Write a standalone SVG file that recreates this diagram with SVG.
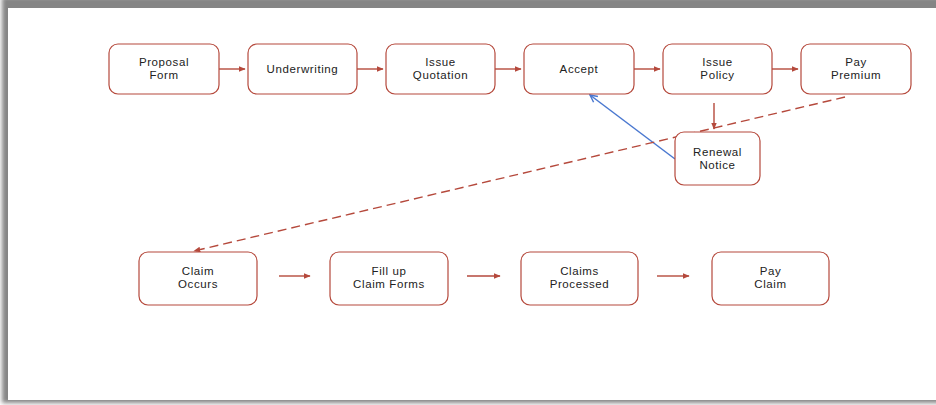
<svg xmlns="http://www.w3.org/2000/svg" width="936" height="405" viewBox="0 0 936 405">
<defs>
<style>
.n rect{fill:#fff;stroke:#b5493c;stroke-width:1.2}
.n text{font-family:"Liberation Sans",Arial,sans-serif;font-size:11.5px;letter-spacing:0.6px;fill:#222;text-anchor:middle}
.c{stroke:#b5493c;stroke-width:1.4;fill:none}
</style>
<marker id="ar" viewBox="0 0 10 10" refX="9" refY="5" markerWidth="5" markerHeight="5" orient="auto"><path d="M0,1 L10,5 L0,9 z" fill="#b5493c"/></marker>
<marker id="ab" viewBox="0 0 10 10" refX="9" refY="5" markerWidth="6" markerHeight="6" orient="auto"><path d="M1,1 L9,5 L1,9" fill="none" stroke="#4a78d0" stroke-width="1.6"/></marker>
<filter id="sh" x="-5%" y="-5%" width="110%" height="110%"><feGaussianBlur stdDeviation="2"/></filter>
</defs>
<rect x="0" y="0" width="936" height="405" fill="#fff"/>
<rect x="2" y="-3" width="960" height="406" fill="#858585" filter="url(#sh)"/>
<rect x="8" y="8" width="940" height="392" fill="#fff"/>
<g id="connectors">
<line class="c" x1="219" y1="69" x2="245" y2="69" marker-end="url(#ar)"/>
<line class="c" x1="357" y1="69" x2="383" y2="69" marker-end="url(#ar)"/>
<line class="c" x1="495" y1="69" x2="521" y2="69" marker-end="url(#ar)"/>
<line class="c" x1="634" y1="69" x2="660" y2="69" marker-end="url(#ar)"/>
<line class="c" x1="772" y1="69" x2="798" y2="69" marker-end="url(#ar)"/>
<line class="c" x1="714" y1="103" x2="714" y2="129" marker-end="url(#ar)"/>
<line x1="675" y1="159" x2="590" y2="95" stroke="#4a78d0" stroke-width="1.5" marker-end="url(#ab)"/>
<line class="c" x1="845" y1="97" x2="194" y2="251" stroke-dasharray="9,5" marker-end="url(#ar)"/>
<line class="c" x1="279" y1="276" x2="310" y2="276" marker-end="url(#ar)"/>
<line class="c" x1="467" y1="276" x2="500" y2="276" marker-end="url(#ar)"/>
<line class="c" x1="657" y1="276" x2="689" y2="276" marker-end="url(#ar)"/>
</g>
<g id="proposal" class="n"><rect x="109" y="44" width="110" height="50" rx="9"/><text x="164" y="66">Proposal</text><text x="164" y="79">Form</text></g>
<g id="underwriting" class="n"><rect x="248" y="44" width="109" height="50" rx="9"/><text x="302.5" y="73">Underwriting</text></g>
<g id="quotation" class="n"><rect x="386" y="44" width="109" height="50" rx="9"/><text x="440.5" y="66">Issue</text><text x="440.5" y="79">Quotation</text></g>
<g id="accept" class="n"><rect x="524" y="44" width="110" height="50" rx="9"/><text x="579" y="73">Accept</text></g>
<g id="policy" class="n"><rect x="663" y="44" width="109" height="50" rx="9"/><text x="717.5" y="66">Issue</text><text x="717.5" y="79">Policy</text></g>
<g id="premium" class="n"><rect x="801" y="44" width="110" height="50" rx="9"/><text x="856" y="66">Pay</text><text x="856" y="79">Premium</text></g>
<g id="renewal" class="n"><rect x="675" y="132" width="85" height="53" rx="9"/><text x="717.5" y="156">Renewal</text><text x="717.5" y="169">Notice</text></g>
<g id="claim" class="n"><rect x="139" y="252" width="118" height="53" rx="9"/><text x="198" y="275">Claim</text><text x="198" y="288">Occurs</text></g>
<g id="fillup" class="n"><rect x="330" y="252" width="118" height="53" rx="9"/><text x="389" y="275">Fill up</text><text x="389" y="288">Claim Forms</text></g>
<g id="processed" class="n"><rect x="521" y="252" width="117" height="53" rx="9"/><text x="579.5" y="275">Claims</text><text x="579.5" y="288">Processed</text></g>
<g id="payclaim" class="n"><rect x="712" y="252" width="117" height="53" rx="9"/><text x="770.5" y="275">Pay</text><text x="770.5" y="288">Claim</text></g>
</svg>
